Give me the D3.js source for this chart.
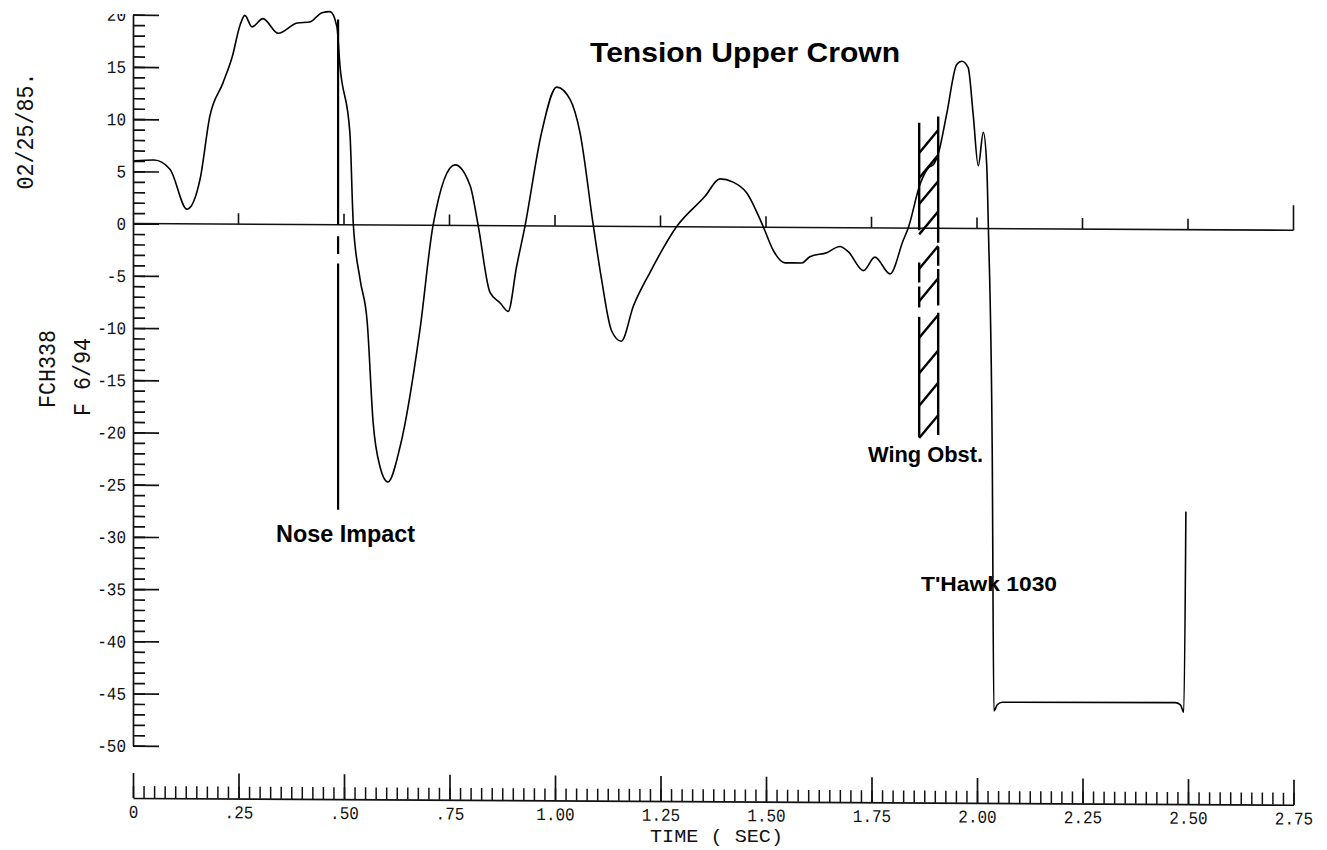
<!DOCTYPE html>
<html>
<head>
<meta charset="utf-8">
<script src="https://cdn.jsdelivr.net/npm/d3@7"></script>
<style>
  body { margin: 0; background: #fff; }
  .plotter { font-family: "Liberation Mono", "DejaVu Sans Mono", monospace; fill: #111; }
  .label { font-family: "Liberation Sans", Arial, Helvetica, sans-serif; font-weight: bold; fill: #000; }
</style>
</head>
<body>
<div id="chart"></div>
<script>
const width = 1327,
  height = 850;

// time (sec) / tension readings of the trace
const timeSec = [0.003, 0.05, 0.088, 0.128, 0.159, 0.182, 0.213, 0.235, 0.254, 0.265, 0.282, 0.308,
  0.344, 0.389, 0.419, 0.448, 0.467, 0.483, 0.4905, 0.514, 0.522, 0.538, 0.555, 0.569, 0.585, 0.604,
  0.633, 0.680, 0.711, 0.763, 0.799, 0.818, 0.846, 0.870, 0.889, 0.909, 0.929, 0.968, 1.004, 1.036,
  1.059, 1.091, 1.110, 1.134, 1.157, 1.186, 1.225, 1.288, 1.355, 1.391, 1.422, 1.454, 1.494, 1.517,
  1.545, 1.585, 1.604, 1.644, 1.675, 1.695, 1.731, 1.758, 1.794, 1.825, 1.837, 1.865, 1.885, 1.897,
  1.908, 1.928, 1.952, 1.964, 1.979, 1.991, 2.003, 2.015, 2.023, 2.027, 2.036, 2.040, 2.048, 2.060,
  2.470, 2.482, 2.490, 2.495];
const tension = [6.0, 6.1, 5.2, 1.4, 4.3, 10.3, 13.5, 16.0, 19.1, 20.0, 18.9, 19.7,
  18.3, 19.3, 19.4, 20.3, 20.4, 19.0, 15.2, 8.8, 0.1, -5.2, -9.3, -18.9, -23.1, -24.6,
  -21.2, -10.0, 0, 5.8, 3.8, 0, -6.4, -7.4, -8.2, -3.9, 0, 8.9, 13.3, 12.1,
  9.0, 0, -5.0, -10.0, -11.0, -7.6, -4.4, 0, 2.9, 4.6, 4.3, 3.3, 0, -2.2,
  -3.4, -3.4, -2.8, -2.4, -1.8, -2.3, -4.1, -2.8, -4.4, -1.2, 0, 4.2, 5.8, 6.1,
  7.1, 10.9, 15.7, 16.0, 15.4, 10.9, 6.0, 9.2, 6.1, 0, -21.0, -46.2, -45.6, -45.35,
  -45.3, -45.5, -46.2, -27.0];

const timeTicks = [0, 0.25, 0.5, 0.75, 1.0, 1.25, 1.5, 1.75, 2.0, 2.25, 2.5, 2.75];
const timeTickLabels = ["0", ".25", ".50", ".75", "1.00", "1.25", "1.50", "1.75", "2.00", "2.25", "2.50", "2.75"];
const valueTicks = [20, 15, 10, 5, 0, -5, -10, -15, -20, -25, -30, -35, -40, -45, -50];
const valueTickLabels = ["20", "15", "10", "5", "0", "-5", "-10", "-15", "-20", "-25", "-30", "-35", "-40", "-45", "-50"];

// nose impact marker (time, and value spans of its pen strokes)
const noseImpactTime = 0.486;
const noseImpactSpans = [[19.65, 0.0], [-1.1, -2.8], [-3.7, -27.3]];

// wing obstruction band
const wingObstTimes = [1.863, 1.908];
const wingLeftSpans = [[10.1, -0.2], [-3.3, -5.2], [-5.6, -7.6], [-8.5, -20.0]];
const wingRightSpans = [[10.7, -1.4], [-1.8, -3.6], [-3.9, -7.4], [-8.1, -19.8]];
const hatchTops = [9.4, 7.0, 4.5, 1.6, -1.7, -4.8, -8.3, -11.7, -14.8, -17.9];
const hatchDrop = 2.2;

const x = d3.scaleLinear().domain([0, 2.75]).range([133, 1293.5]);
const y = d3.scaleLinear().domain([20, -50]).range([14.7, 745.7]);
const bottomAxisY = 798;

const svg = d3.select("#chart").append("svg")
  .attr("width", width)
  .attr("height", height)
  .style("background", "#fff");

// the scanned plot is slightly skewed
const skew = Math.atan(0.0058) * 180 / Math.PI;
const g = svg.append("g")
  .attr("transform", `translate(133,0) skewY(${skew}) translate(-133,0)`);

// top of the "20" label is cut off on the sheet
svg.append("defs").append("clipPath").attr("id", "topclip")
  .append("rect").attr("x", -300).attr("y", 14).attr("width", width + 300).attr("height", height);

// narrow, tall plotter lettering
function plotterText(sel, size, charW) {
  sel.attr("class", "plotter")
    .attr("font-size", size)
    .attr("lengthAdjust", "spacingAndGlyphs")
    .attr("textLength", function () { return this.textContent.length * charW; });
}

// y axis: minor then major ticks
g.append("g")
  .attr("transform", `translate(${x(0)},0)`)
  .call(d3.axisLeft(y).tickValues(d3.range(-50, 21, 1)).tickSize(-12).tickFormat(""))
  .call(a => a.select(".domain").remove())
  .call(a => a.selectAll("line").attr("stroke", "#111").attr("stroke-width", 1.7));

const yAx = g.append("g")
  .attr("transform", `translate(${x(0)},0)`)
  .attr("clip-path", "url(#topclip)")
  .call(d3.axisLeft(y).tickValues(valueTicks).tickSize(-26).tickSizeOuter(0).tickPadding(7)
    .tickFormat(d => valueTickLabels[valueTicks.indexOf(d)]));
yAx.select(".domain").attr("stroke", "#111").attr("stroke-width", 1.7);
yAx.selectAll("line").attr("stroke", "#111").attr("stroke-width", 1.7);
yAx.selectAll("text").call(plotterText, 18, 9.6);

// zero line with its time ticks
g.append("line")
  .attr("x1", x(0)).attr("x2", x(2.75))
  .attr("y1", y(0)).attr("y2", y(0))
  .attr("stroke", "#111").attr("stroke-width", 1.6);
g.selectAll(".zt").data(timeTicks.slice(1)).join("line")
  .attr("class", "zt")
  .attr("x1", d => x(d)).attr("x2", d => x(d))
  .attr("y1", y(0)).attr("y2", d => y(0) - (d === 2.75 ? 25 : 11))
  .attr("stroke", "#111").attr("stroke-width", 1.6);

// bottom time axis
g.append("g")
  .attr("transform", `translate(0,${bottomAxisY})`)
  .call(d3.axisBottom(x).tickValues(d3.range(0, 2.7501, 0.025)).tickSize(-12).tickFormat(""))
  .call(a => a.select(".domain").remove())
  .call(a => a.selectAll("line").attr("stroke", "#111").attr("stroke-width", 1.5));

const xAx = g.append("g")
  .attr("transform", `translate(0,${bottomAxisY})`)
  .call(d3.axisBottom(x).tickValues(timeTicks).tickSize(-25).tickSizeOuter(0).tickPadding(7)
    .tickFormat(d => timeTickLabels[timeTicks.indexOf(d)]));
xAx.select(".domain").attr("stroke", "#111").attr("stroke-width", 1.7);
xAx.selectAll("line").attr("stroke", "#111").attr("stroke-width", 1.7);
xAx.selectAll("text").call(plotterText, 18, 9.6);

// trace
const line = d3.line()
  .x(d => x(d[0]))
  .y(d => y(d[1]))
  .curve(d3.curveMonotoneX);

g.append("path")
  .datum(d3.zip(timeSec, tension))
  .attr("fill", "none")
  .attr("stroke", "#000")
  .attr("stroke-width", 1.6)
  .attr("stroke-linejoin", "round")
  .attr("d", line);

// nose impact marker
g.selectAll(".nose").data(noseImpactSpans).join("line")
  .attr("class", "nose")
  .attr("x1", x(noseImpactTime)).attr("x2", x(noseImpactTime))
  .attr("y1", d => y(d[0])).attr("y2", d => y(d[1]))
  .attr("stroke", "#000").attr("stroke-width", 2.2);

// wing obstruction band
const bands = [[wingObstTimes[0], wingLeftSpans], [wingObstTimes[1], wingRightSpans]];
bands.forEach(([t, spans]) => {
  g.selectAll(null).data(spans).join("line")
    .attr("x1", x(t)).attr("x2", x(t))
    .attr("y1", d => y(d[0])).attr("y2", d => y(d[1]))
    .attr("stroke", "#000").attr("stroke-width", 2.4);
});
g.selectAll(".hatch").data(hatchTops).join("line")
  .attr("class", "hatch")
  .attr("x1", x(wingObstTimes[0])).attr("x2", x(wingObstTimes[1]))
  .attr("y1", d => y(d - hatchDrop)).attr("y2", d => y(d))
  .attr("stroke", "#000").attr("stroke-width", 2.4);

// annotations
svg.append("text").attr("class", "label")
  .attr("x", 590).attr("y", 62)
  .attr("font-size", 28)
  .attr("textLength", 310).attr("lengthAdjust", "spacingAndGlyphs")
  .text("Tension Upper Crown");

svg.append("text").attr("class", "label")
  .attr("x", 276).attr("y", 542)
  .attr("font-size", 23)
  .attr("textLength", 139).attr("lengthAdjust", "spacingAndGlyphs")
  .text("Nose Impact");

svg.append("text").attr("class", "label")
  .attr("x", 868).attr("y", 462)
  .attr("font-size", 22)
  .attr("textLength", 115).attr("lengthAdjust", "spacingAndGlyphs")
  .text("Wing Obst.");

svg.append("text").attr("class", "label")
  .attr("x", 921).attr("y", 591)
  .attr("font-size", 21)
  .attr("textLength", 136).attr("lengthAdjust", "spacingAndGlyphs")
  .text("T'Hawk 1030");

svg.append("text").attr("class", "plotter")
  .attr("x", 650).attr("y", 842)
  .attr("font-size", 19)
  .attr("textLength", 133).attr("lengthAdjust", "spacingAndGlyphs")
  .text("TIME ( SEC)");

// side stamps
const stamps = [["02/25/85.", 33, 131], ["FCH338", 55, 369], ["F 6/94", 90, 377]];
stamps.forEach(([s, sx, sy]) => {
  svg.append("text")
    .attr("transform", `translate(${sx},${sy}) rotate(-90)`)
    .attr("text-anchor", "middle")
    .text(s)
    .call(plotterText, 24, 13);
});
</script>
</body>
</html>
